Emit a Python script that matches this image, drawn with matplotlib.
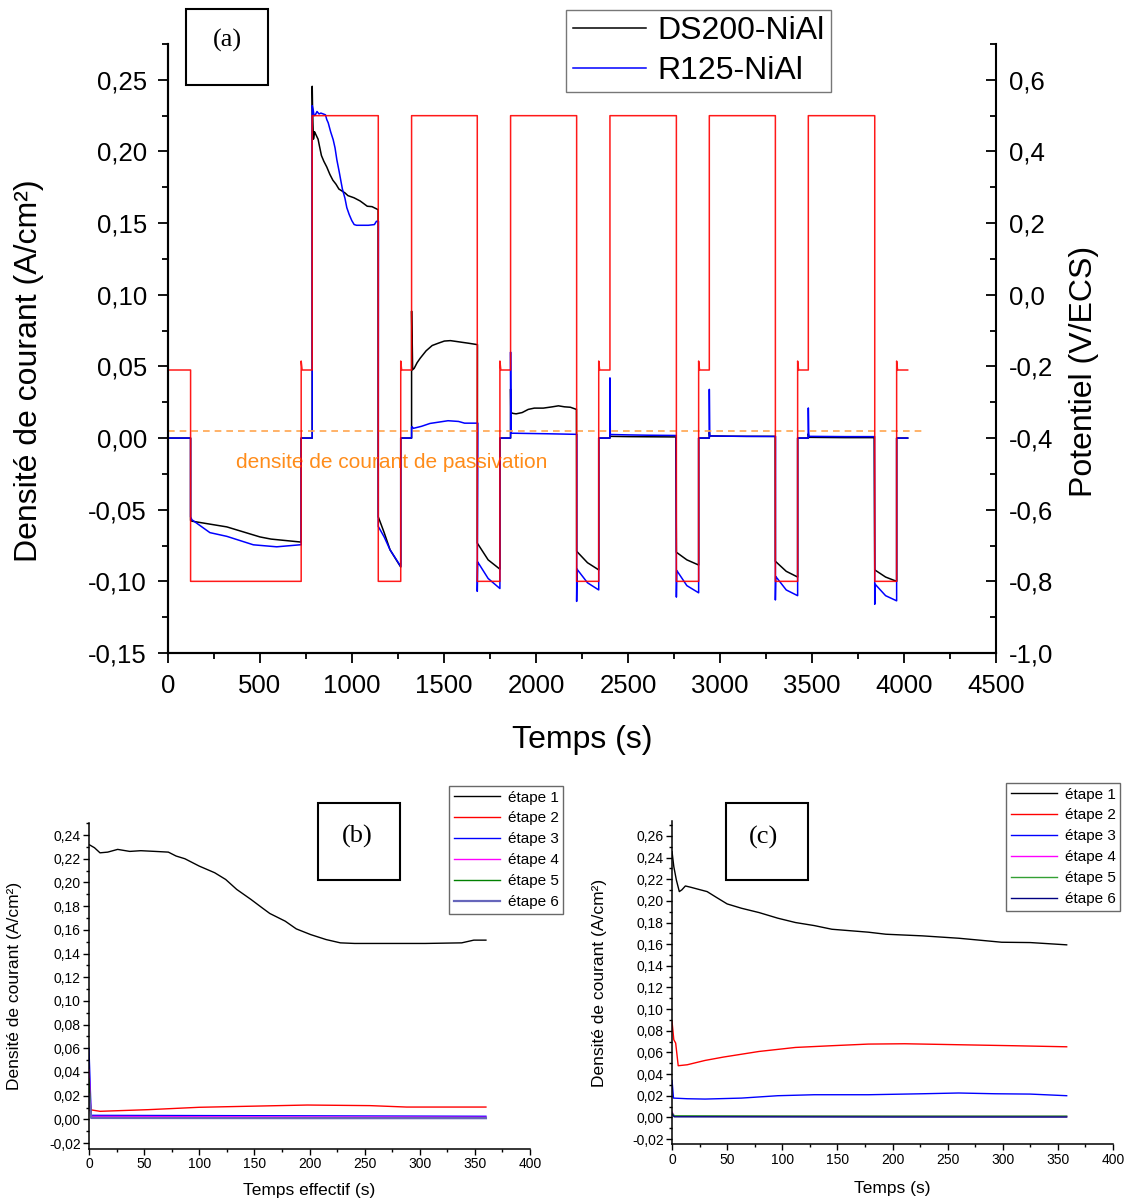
import numpy as np
import matplotlib.pyplot as plt
from matplotlib.patches import Rectangle
from matplotlib.ticker import MultipleLocator, FuncFormatter

plt.rcParams['font.family'] = ['Liberation Sans', 'DejaVu Sans']

# ---------------- data : (a) potential steps ----------------
E_t = [0, 123, 724, 784, 1143, 1265, 1324, 1681, 1804, 1862, 2221, 2341, 2402,
       2763, 2884, 2942, 3301, 3422, 3480, 3841, 3960, 4020]
E_level = [-0.21, -0.80, -0.21, 0.50, -0.80, -0.21, 0.50, -0.80, -0.21, 0.50,
           -0.80, -0.21, 0.50, -0.80, -0.21, 0.50, -0.80, -0.21, 0.50, -0.80, -0.21]
E_mid = -0.21
E_spike = -0.185

# mid (rest) segments, current = 0
mid_t = [(0, 123), (724, 784), (1265, 1324), (1804, 1862), (2341, 2402),
         (2884, 2942), (3422, 3480), (3960, 4020)]
high_start = [784, 1324, 1862, 2402, 2942, 3480]

# cathodic (low) segments of (a)
ds_low = [
    ([123, 130, 320, 500, 560, 724], [-0.0575, -0.058, -0.062, -0.069, -0.0705, -0.0726]),
    ([1143, 1175, 1207, 1265], [-0.055, -0.066, -0.078, -0.090]),
    ([1681, 1740, 1804], [-0.0733, -0.085, -0.0915]),
    ([2221, 2280, 2341], [-0.079, -0.087, -0.092]),
    ([2763, 2820, 2884], [-0.0797, -0.085, -0.0886]),
    ([3301, 3360, 3422], [-0.086, -0.093, -0.097]),
    ([3841, 3900, 3960], [-0.092, -0.097, -0.100]),
]
r_low = [
    ([123, 130, 228, 320, 464, 591, 717, 724],
     [-0.055, -0.057, -0.066, -0.0686, -0.0745, -0.0759, -0.0745, -0.0745]),
    ([1143, 1175, 1207, 1265], [-0.0617, -0.069, -0.078, -0.0896]),
    ([1681, 1683, 1740, 1804], [-0.107, -0.0864, -0.098, -0.105]),
    ([2221, 2223, 2280, 2341], [-0.114, -0.0915, -0.101, -0.106]),
    ([2763, 2765, 2820, 2884], [-0.111, -0.0924, -0.103, -0.108]),
    ([3301, 3303, 3360, 3422], [-0.113, -0.0966, -0.106, -0.110]),
    ([3841, 3843, 3900, 3960], [-0.116, -0.102, -0.110, -0.1136]),
]

passivation_j = 0.005
passivation_end = 4105

# ---------------- data : (b) R125-NiAl, anodic steps ----------------
b_t1 = [0, 5, 10, 17, 26, 37, 47, 60, 72, 79, 87, 100, 114, 124, 134, 147, 157,
        164, 178, 188, 201, 215, 228, 241, 272, 305, 338, 349, 360]
b_j1 = [0.232, 0.2293, 0.225, 0.2256, 0.2279, 0.2262, 0.2268, 0.2262, 0.2256,
        0.2223, 0.220, 0.2138, 0.2082, 0.2025, 0.1941, 0.1856, 0.1786, 0.1738,
        0.1673, 0.1608, 0.156, 0.1518, 0.149, 0.1485, 0.1485, 0.1485, 0.149,
        0.1513, 0.1513]
b_t2 = [0, 2, 10, 54, 100, 198, 255, 288, 360]
b_j2 = [0.0075, 0.0080, 0.0068, 0.0082, 0.0102, 0.0121, 0.0116, 0.0104, 0.0104]
b_tn = [0, 2, 100, 200, 360]
b_j3 = [0.060, 0.0034, 0.0032, 0.0030, 0.0026]
b_j4 = [0.042, 0.0025, 0.0022, 0.0020, 0.0018]
b_j5 = [0.034, 0.0015, 0.0013, 0.0012, 0.0011]
b_j6 = [0.021, 0.0012, 0.0011, 0.0010, 0.0010]

# ---------------- data : (c) DS200-NiAl, anodic steps ----------------
c_t1 = [0, 1.6, 3.9, 6.6, 8.9, 12.1, 17, 23.6, 31.8, 40, 50, 63, 79, 96, 112,
        129, 145, 178, 194, 227, 260, 276, 299, 325, 358]
c_j1 = [0.2455, 0.2317, 0.2194, 0.2086, 0.2102, 0.2138, 0.2126, 0.2108, 0.2086,
        0.2034, 0.1972, 0.1932, 0.1892, 0.184, 0.18, 0.1772, 0.1738, 0.1711,
        0.1692, 0.1677, 0.1655, 0.164, 0.1618, 0.1615, 0.1594]
c_t2 = [0, 1.6, 3.3, 5.6, 13.8, 30, 46.6, 79, 112, 145, 178, 211, 244, 276, 309, 358]
c_j2 = [0.0886, 0.0717, 0.0686, 0.0477, 0.0486, 0.0526, 0.0557, 0.0609, 0.0646,
        0.0662, 0.0677, 0.068, 0.0674, 0.0668, 0.0662, 0.0652]
c_t3 = [0, 1.3, 13.8, 30, 63, 96, 129, 178, 227, 260, 293, 325, 358]
c_j3 = [0.0342, 0.0178, 0.0172, 0.0169, 0.0178, 0.020, 0.0209, 0.0209, 0.0218,
        0.0225, 0.0218, 0.0215, 0.020]
c_tn = [0, 2, 100, 200, 358]
c_j4 = [0.005, 0.0012, 0.0010, 0.0009, 0.0008]
c_j5 = [0.004, 0.0015, 0.0013, 0.0012, 0.0012]
c_j6 = [0.003, 0.0005, 0.0004, 0.0003, 0.0003]

step_labels = ['étape 1', 'étape 2', 'étape 3', 'étape 4', 'étape 5', 'étape 6']
b_steps = [(b_t1, b_j1), (b_t2, b_j2), (b_tn, b_j3), (b_tn, b_j4), (b_tn, b_j5), (b_tn, b_j6)]
c_steps = [(c_t1, c_j1), (c_t2, c_j2), (c_t3, c_j3), (c_tn, c_j4), (c_tn, c_j5), (c_tn, c_j6)]
b_colors = ['black', '#FF0000', '#0000FF', '#FF00FF', '#008000', '#6666BB']
c_colors = ['black', '#FF0000', '#0000FF', '#FF00FF', '#33A033', '#000080']


def build_current(lows, steps):
    xs, ys = [], []

    def add(t, j):
        xs.extend(t)
        ys.extend(j)

    add(mid_t[0], [0, 0])
    add(*lows[0])
    add(mid_t[1], [0, 0])
    for k in range(6):
        t, j = steps[k]
        add([high_start[k] + v for v in t], j)
        add(*lows[k + 1])
        add(mid_t[k + 2], [0, 0])
    return np.array(xs), np.array(ys)


def build_potential():
    xs, ys = [], []
    for i, lev in enumerate(E_level):
        t0, t1 = E_t[i], E_t[i + 1]
        if lev == E_mid and i > 0:
            xs += [t0, t0 + 5]
            ys += [E_spike, lev]
        else:
            xs.append(t0)
            ys.append(lev)
        xs.append(t1)
        ys.append(lev)
    return xs, ys


def comma(fmt):
    return FuncFormatter(lambda v, p: fmt.format(v).replace('.', ',').replace('-0,00', '0,00'))


fig = plt.figure(figsize=(11.48, 12.03), dpi=100)

# ── (a) main chart ─────────────────────────────────────────────
ax = fig.add_axes([0.1463, 0.4572, 0.7213, 0.5062])
ax2 = ax.twinx()

ds_x, ds_y = build_current(ds_low, c_steps)
r_x, r_y = build_current(r_low, b_steps)
ax.plot(ds_x, ds_y, color='black', lw=1.1, label='DS200-NiAl')
ax.plot(r_x, r_y, color='#0000FF', lw=1.1, label='R125-NiAl')
ax.hlines(passivation_j, 0, passivation_end, colors='#FFA54F', linestyles=(0, (4, 3)), lw=1.2)
ax.text(370, -0.017, 'densite de courant de passivation', color='#FF8C1A',
        fontsize=15, va='center', ha='left')

ex, ey = build_potential()
ax2.plot(ex, ey, color='#FF0000', lw=1.1, alpha=0.9)

ax.set_xlim(0, 4500)
ax.set_ylim(-0.15, 0.275)
ax.xaxis.set_major_locator(MultipleLocator(500))
ax.xaxis.set_minor_locator(MultipleLocator(250))
ax.yaxis.set_major_locator(MultipleLocator(0.05))
ax.yaxis.set_minor_locator(MultipleLocator(0.025))
ax.yaxis.set_major_formatter(comma('{:.2f}'))
ax2.yaxis.set_major_locator(MultipleLocator(0.2))
ax2.yaxis.set_minor_locator(MultipleLocator(0.1))
ax2.yaxis.set_major_formatter(comma('{:.1f}'))
ax2.set_ylim(-1.0, 0.7)

for a in (ax, ax2):
    a.spines['top'].set_visible(False)
    for s in a.spines.values():
        s.set_linewidth(1.5)
ax.spines['right'].set_visible(False)
ax.tick_params(which='major', direction='out', length=7, width=1.3, labelsize=18.5, pad=8)
ax.tick_params(which='minor', direction='out', length=4, width=1.3)
ax2.tick_params(which='major', direction='in', length=7, width=1.3, labelsize=18.5, pad=9)
ax2.tick_params(which='minor', direction='in', length=4, width=1.3)

ax.set_xlabel('Temps (s)', fontsize=23)
ax.set_ylabel('Densité de courant (A/cm²)', fontsize=23)
ax2.set_ylabel('Potentiel (V/ECS)', fontsize=23)
ax.xaxis.set_label_coords(0.5, -0.118)
ax.yaxis.set_label_coords(-0.150, 0.463)
ax2.yaxis.set_label_coords(1.088, 0.463)

fig.legend(*ax.get_legend_handles_labels(), loc='upper right',
           bbox_to_anchor=(0.7239, 0.9917), fontsize=23, frameon=True,
           fancybox=False, edgecolor='#555555', handlelength=2.3,
           labelspacing=0.3, borderpad=0.2, handletextpad=0.35, borderaxespad=0)

fig.patches.append(Rectangle((0.162, 0.9293), 0.0714, 0.0632, transform=fig.transFigure,
                             fill=False, edgecolor='black', lw=1.5))
fig.text(0.1977, 0.9665, '(a)', family='Liberation Serif', fontsize=19, ha='center', va='center')

# ── (b) and (c) ─────────────────────────────────────────────────
sub_specs = [
    ([0.0775, 0.0449, 0.3842, 0.2708], b_steps, b_colors, (-0.025, 0.25),
     'Temps effectif (s)', (0.4904, 0.3466), (0.277, 0.2685, 0.0714, 0.064), (0.311, 0.3045), '(b)',
     (-0.152, -0.105)),
    ([0.5854, 0.0487, 0.3841, 0.2690], c_steps, c_colors, (-0.025, 0.274),
     'Temps (s)', (0.9756, 0.3491), (0.632, 0.2685, 0.0722, 0.064), (0.6655, 0.3035), '(c)',
     (-0.148, -0.112)),
]

for rect, steps, colors, ylim, xlab, leg_anchor, box, box_text, tag, lab_xy in sub_specs:
    sa = fig.add_axes(rect)
    for (t, j), col, lab in zip(steps, colors, step_labels):
        sa.plot(t, j, color=col, lw=1.6 if col == '#6666BB' else 1.0, label=lab)
    sa.set_xlim(0, 400)
    sa.set_ylim(*ylim)
    sa.xaxis.set_major_locator(MultipleLocator(50))
    sa.xaxis.set_minor_locator(MultipleLocator(25))
    sa.yaxis.set_major_locator(MultipleLocator(0.02))
    sa.yaxis.set_minor_locator(MultipleLocator(0.01))
    sa.yaxis.set_major_formatter(comma('{:.2f}'))
    sa.spines['top'].set_visible(False)
    sa.spines['right'].set_visible(False)
    for s in ('left', 'bottom'):
        sa.spines[s].set_linewidth(1.1)
    sa.tick_params(which='major', direction='out', length=4, width=1.0, labelsize=10, pad=2)
    sa.tick_params(which='minor', direction='out', length=2.5, width=1.0)
    sa.set_xlabel(xlab, fontsize=12.5)
    sa.set_ylabel('Densité de courant (A/cm²)', fontsize=12.5)
    sa.yaxis.set_label_coords(lab_xy[0], 0.5)
    sa.xaxis.set_label_coords(0.5, lab_xy[1])
    fig.legend(*sa.get_legend_handles_labels(), loc='upper right', bbox_to_anchor=leg_anchor,
               fontsize=11, frameon=True, fancybox=False, edgecolor='#444444',
               handlelength=3.0, labelspacing=0.45, borderpad=0.3, handletextpad=0.5,
               borderaxespad=0)
    fig.patches.append(Rectangle(box[:2], box[2], box[3], transform=fig.transFigure,
                                 fill=False, edgecolor='black', lw=1.5))
    fig.text(box_text[0], box_text[1], tag, family='Liberation Serif', fontsize=19,
             ha='center', va='center')

fig.savefig('out.png', dpi=100)
